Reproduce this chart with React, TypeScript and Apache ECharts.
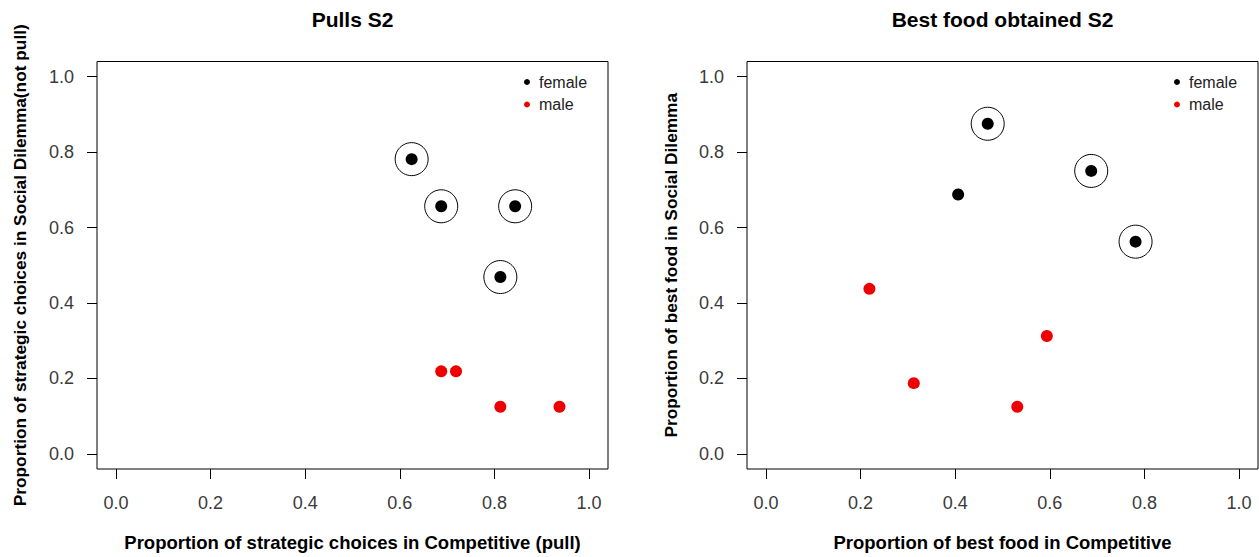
import React, { useEffect, useRef } from "react";
import * as echarts from "echarts";

// ---- data ----
const tickValues = [0, 0.2, 0.4, 0.6, 0.8, 1.0];
const panelTitles = ["Pulls S2", "Best food obtained S2"];
const xNames = [
  "Proportion of strategic choices in Competitive (pull)",
  "Proportion of best food in Competitive",
];
const yNames = [
  "Proportion of strategic choices in Social Dilemma(not pull)",
  "Proportion of best food in Social Dilemma",
];
const legendNames = ["female", "male"];

const pullsFemaleX = [0.625, 0.6875, 0.84375, 0.8125];
const pullsFemaleY = [0.78125, 0.65625, 0.65625, 0.46875];
const pullsFemaleCircled = [true, true, true, true];
const pullsMaleX = [0.6875, 0.71875, 0.8125, 0.9375];
const pullsMaleY = [0.21875, 0.21875, 0.125, 0.125];

const foodFemaleX = [0.46875, 0.6875, 0.78125, 0.40625];
const foodFemaleY = [0.875, 0.75, 0.5625, 0.6875];
const foodFemaleCircled = [true, true, true, false];
const foodMaleX = [0.21875, 0.3125, 0.53125, 0.59375];
const foodMaleY = [0.4375, 0.1875, 0.125, 0.3125];

const FONT = "'Liberation Sans', Arial, Helvetica, sans-serif";

const panels = [
  { fx: pullsFemaleX, fy: pullsFemaleY, fc: pullsFemaleCircled, mx: pullsMaleX, my: pullsMaleY },
  { fx: foodFemaleX, fy: foodFemaleY, fc: foodFemaleCircled, mx: foodMaleX, my: foodMaleY },
];

const zip = (xs: number[], ys: number[]) => xs.map((x, i) => [x, ys[i]]);

export default function App() {
  const ref = useRef<HTMLDivElement>(null);

  useEffect(() => {
    if (!ref.current) return;
    const chart = echarts.init(ref.current, undefined, { renderer: "svg" });

    const gridLefts = [97, 747];
    const gridW = 511;
    const gridTop = 61.5;
    const gridH = 409.5;

    const grids = gridLefts.map((l) => ({
      left: l,
      top: gridTop,
      width: gridW,
      height: gridH,
      show: true,
      borderColor: "#000",
      borderWidth: 1,
      backgroundColor: "transparent",
      containLabel: false,
    }));

    const fmt = (v: number) => v.toFixed(1);

    const xAxes = panels.map((_, i) => ({
      type: "value",
      gridIndex: i,
      position: "bottom",
      min: -0.04,
      max: 1.04,
      axisLine: { show: false, onZero: false },
      splitLine: { show: false },
      axisTick: { show: true, inside: false, length: 10, customValues: tickValues, lineStyle: { color: "#000", width: 1 } },
      axisLabel: { customValues: tickValues, formatter: fmt, margin: 25, fontSize: 18, color: "#3a3a3a", fontFamily: FONT },
      name: xNames[i],
      nameLocation: "middle",
      nameGap: 64,
      nameTextStyle: { fontWeight: "bold", fontSize: 18.5, color: "#000", fontFamily: FONT },
    }));

    const yAxes = panels.map((_, i) => ({
      type: "value",
      gridIndex: i,
      position: "left",
      min: -0.04,
      max: 1.04,
      axisLine: { show: false, onZero: false },
      splitLine: { show: false },
      axisTick: { show: true, inside: false, length: 10, customValues: tickValues, lineStyle: { color: "#000", width: 1 } },
      axisLabel: { customValues: tickValues, formatter: fmt, margin: 23, fontSize: 18, color: "#3a3a3a", fontFamily: FONT },
      name: yNames[i],
      nameLocation: "middle",
      nameGap: i === 0 ? 69 : 68,
      nameTextStyle: { fontWeight: "bold", fontSize: 17.3, color: "#000", fontFamily: FONT },
    }));

    const series: any[] = [];
    panels.forEach((p, i) => {
      series.push({
        type: "scatter",
        name: "female circled",
        xAxisIndex: i,
        yAxisIndex: i,
        data: zip(p.fx, p.fy).filter((_, k) => p.fc[k]),
        symbol: "circle",
        symbolSize: 33,
        itemStyle: { color: "rgba(0,0,0,0)", borderColor: "#000", borderWidth: 1, opacity: 1 },
        silent: true,
        z: 2,
      });
      series.push({
        type: "scatter",
        name: legendNames[0],
        xAxisIndex: i,
        yAxisIndex: i,
        data: zip(p.fx, p.fy),
        symbol: "circle",
        symbolSize: 12,
        itemStyle: { color: "#000", opacity: 1 },
        silent: true,
        z: 3,
      });
      series.push({
        type: "scatter",
        name: legendNames[1],
        xAxisIndex: i,
        yAxisIndex: i,
        data: zip(p.mx, p.my),
        symbol: "circle",
        symbolSize: 12,
        itemStyle: { color: "#ee0000", opacity: 1 },
        silent: true,
        z: 3,
      });
    });

    const legends = [524, 1174].map((l) => ({
      left: l,
      top: 74,
      orient: "vertical",
      padding: 0,
      itemWidth: 14,
      itemHeight: 6,
      itemGap: 6.5,
      icon: "circle",
      selectedMode: false,
      data: legendNames,
      textStyle: { fontSize: 16, color: "#222", lineHeight: 16, fontFamily: FONT },
    }));

    const titles = panelTitles.map((t, i) => ({
      text: t,
      left: gridLefts[i] + gridW / 2,
      textAlign: "center",
      top: 9,
      padding: 0,
      textStyle: { fontSize: 21, fontWeight: "bold", color: "#000", fontFamily: FONT },
    }));

    chart.setOption({
      animation: false,
      backgroundColor: "#fff",
      title: titles,
      legend: legends,
      grid: grids,
      xAxis: xAxes,
      yAxis: yAxes,
      series,
    });

    return () => chart.dispose();
  }, []);

  return (
    <div
      ref={ref}
      style={{ position: "fixed", left: 0, top: 0, width: 1259, height: 557, background: "#fff" }}
    />
  );
}
